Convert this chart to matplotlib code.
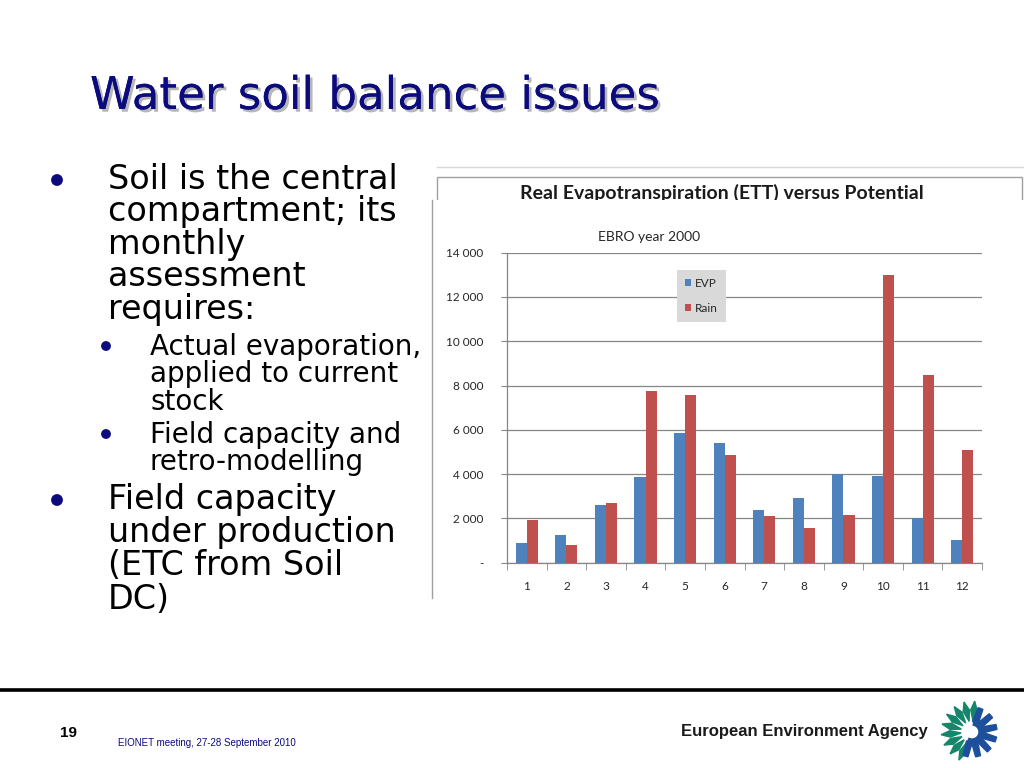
import numpy as np
import matplotlib
matplotlib.use("Agg")
import matplotlib.pyplot as plt
import matplotlib.patheffects as pe
from matplotlib.patches import Rectangle, Circle, Polygon
from matplotlib.ticker import FuncFormatter, FixedLocator

# monthly values, EBRO basin, year 2000
months = ["1", "2", "3", "4", "5", "6", "7", "8", "9", "10", "11", "12"]
evp = [870, 1250, 2600, 3850, 5840, 5400, 2380, 2900, 4000, 3910, 2000, 1020]
rain = [1940, 780, 2710, 7750, 7570, 4870, 2120, 1560, 2170, 13000, 8480, 5110]
yticks = [0, 2000, 4000, 6000, 8000, 10000, 12000, 14000]

title = "Water soil balance issues"
bullet1 = ["Soil is the central", "compartment; its", "monthly", "assessment", "requires:"]
sub1 = ["Actual evaporation,", "applied to current", "stock"]
sub2 = ["Field capacity and", "retro-modelling"]
bullet2 = ["Field capacity", "under production", "(ETC from Soil", "DC)"]

navy = "#0B0B7E"
blue = "#4F81BD"
red = "#C0504D"
grey = "#868686"

fig = plt.figure(figsize=(10.24, 7.68), dpi=100)
fig.patch.set_facecolor("white")

# slide background axes in pixel coordinates
bg = fig.add_axes([0, 0, 1, 1])
bg.set_xlim(0, 1024)
bg.set_ylim(768, 0)
bg.axis("off")

bg.text(90, 109, title, fontsize=32.5, color=navy, family="DejaVu Sans",
        path_effects=[pe.withSimplePatchShadow(offset=(2, -2), shadow_rgbFace="#888888", alpha=0.6),
                      pe.Normal()])

# bullets
for i, line in enumerate(bullet1):
    bg.text(108, 189 + 32.5 * i, line, fontsize=24, color="black", va="baseline")
for i, line in enumerate(sub1):
    bg.text(150, 355 + 27.5 * i, line, fontsize=20, color="black", va="baseline")
for i, line in enumerate(sub2):
    bg.text(150, 443 + 27.5 * i, line, fontsize=20, color="black", va="baseline")
for i, line in enumerate(bullet2):
    bg.text(108, 509 + 33.2 * i, line, fontsize=24, color="black", va="baseline")
for (cx, cy, r) in [(57, 180, 5.2), (106, 346, 4.2), (106, 434, 4.2), (57, 500, 5.2)]:
    bg.add_patch(Circle((cx, cy), r, color=navy))

# pasted chart picture: title box partly covered by the plot picture
bg.plot([437, 1024], [167, 167], color="#D8D8D8", lw=1)
bg.add_patch(Rectangle((437, 177), 585, 60, facecolor="white", edgecolor="#A0A0A0", lw=1, zorder=1))
bg.text(722, 199, "Real Evapotranspiration (ETT) versus Potential", fontsize=14,
        family="Lato", weight="bold", color="#1A1A1A", ha="center", va="baseline", zorder=2)
bg.add_patch(Rectangle((432, 199.5), 600, 400, facecolor="white", edgecolor="none", zorder=3))
bg.plot([432, 432], [199.5, 598], color="#A0A0A0", lw=1, zorder=4)

# footer
bg.plot([0, 1024], [690, 690], color="black", lw=2.6)
bg.text(60, 737, "19", fontsize=11, weight="bold", family="Liberation Sans", color="black", va="baseline")
bg.text(118, 746, "EIONET meeting, 27-28 September 2010", fontsize=7,
        family="Liberation Sans", color=navy, va="baseline")
bg.text(928, 736, "European Environment Agency", fontsize=12, weight="bold",
        family="Liberation Sans", color="#1A1A1A", ha="right", va="baseline")

# EEA logo, rough sketch
cx, cy = 972, 732
for ang in np.linspace(85, 245, 9):
    t = np.radians(ang)
    d = np.array([np.cos(t), -np.sin(t)])
    n = np.array([-d[1], d[0]])
    base = np.array([cx, cy]) + d * 11
    tip = np.array([cx, cy]) + d * 31
    mid = np.array([cx, cy]) + d * 22
    pts = [base, mid + n * 3.2, tip, mid - n * 3.2]
    bg.add_patch(Polygon(pts, closed=True, color="#16866A"))
arc = np.radians(np.linspace(-115, 80, 40))
outer = [(cx + 12 * np.cos(a), cy - 12 * np.sin(a)) for a in arc]
inner = [(cx + 7 * np.cos(a), cy - 7 * np.sin(a)) for a in arc[::-1]]
bg.add_patch(Polygon(outer + inner, closed=True, color="#1D4F9C"))
for ang in np.linspace(-105, 70, 7):
    t = np.radians(ang)
    d = np.array([np.cos(t), -np.sin(t)])
    n = np.array([-d[1], d[0]])
    c0 = np.array([cx, cy]) + d * 10
    c1 = np.array([cx, cy]) + d * 25
    pts = [c0 + n * 3, c1 + n * 2.5, c1 - n * 2.5, c0 - n * 3]
    bg.add_patch(Polygon(pts, closed=True, color="#1D4F9C"))

# the bar chart
ax = fig.add_axes([507 / 1024, (768 - 562.7) / 768, 475 / 1024, 310.1 / 768])
ax.set_zorder(5)
ax.patch.set_alpha(0)
x = np.arange(len(months))
w = 0.28
ax.bar(x - w / 2, evp, w, color=blue, label="EVP", zorder=3)
ax.bar(x + w / 2, rain, w, color=red, label="Rain", zorder=3)
ax.set_xlim(-0.5, 11.5)
ax.set_ylim(0, 14000)
ax.set_yticks(yticks)
ax.yaxis.set_major_formatter(FuncFormatter(lambda v, p: "-" if v == 0 else f"{int(v):,}".replace(",", " ")))
ax.set_xticks(x)
ax.set_xticklabels(months)
ax.xaxis.set_minor_locator(FixedLocator(np.arange(-0.5, 12, 1)))
ax.tick_params(axis="x", which="major", length=0, pad=13, labelsize=8.5, labelcolor="#262626")
ax.tick_params(axis="x", which="minor", length=5, color=grey, direction="out")
ax.tick_params(axis="y", length=4, color=grey, pad=13, labelsize=8.5, labelcolor="#262626")
for lab in ax.get_xticklabels() + ax.get_yticklabels():
    lab.set_family("Lato")
ax.yaxis.grid(True, color=grey, lw=0.9)
ax.set_axisbelow(True)
for s in ["top", "right"]:
    ax.spines[s].set_visible(False)
for s in ["left", "bottom"]:
    ax.spines[s].set_color(grey)
    ax.spines[s].set_linewidth(0.9)

fig.text(649 / 1024, 1 - 237 / 768, "EBRO year 2000", fontsize=10, family="Lato",
         color="#262626", ha="center", va="center", zorder=6)

leg = ax.legend(loc="upper left", bbox_to_anchor=(677 / 1024, 1 - 270 / 768),
                bbox_transform=fig.transFigure, frameon=True, fancybox=False,
                facecolor="#D9D9D9", edgecolor="none", framealpha=1,
                handlelength=0.55, handleheight=0.55, handletextpad=0.35,
                labelspacing=1.2, borderpad=0.65, borderaxespad=0,
                prop={"family": "Lato", "size": 8.5})
leg.set_zorder(6)
for t in leg.get_texts():
    t.set_color("#262626")

fig.savefig("out.png", dpi=100, facecolor="white")
